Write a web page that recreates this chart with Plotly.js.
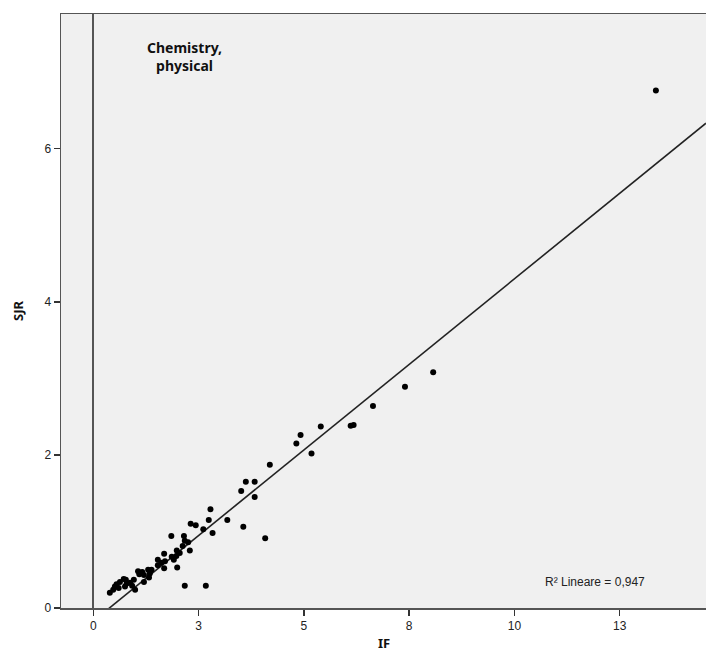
<!DOCTYPE html>
<html>
<head>
<meta charset="utf-8">
<script src="https://cdn.plot.ly/plotly-3.0.1.min.js"></script>
<style>html,body{margin:0;padding:0;overflow:hidden;background:#fff}</style>
</head>
<body>
<div id="chart" style="width:706px;height:663px"></div>
<script>
// Impact Factor (IF) of each journal
const ifVals = [13.36, 8.07, 7.40, 6.64, 6.11, 6.18, 5.40, 4.92, 4.82, 5.18,
  4.19, 3.62, 3.83, 3.51, 3.83, 2.78, 2.74, 3.18, 3.56, 4.08,
  2.31, 2.43, 2.61, 2.83, 2.67, 2.17,
  1.85, 2.15, 2.17, 2.25, 2.12, 2.29, 1.98, 2.05, 1.86, 1.97,
  1.91, 1.99, 1.68, 1.70, 1.68, 1.53, 1.53, 1.61, 1.38, 1.34,
  1.30, 1.16, 1.20, 1.32, 1.20, 1.09, 1.06, 0.96, 0.87, 0.77,
  0.72, 0.99, 0.63, 0.55, 0.60, 0.51, 0.39, 0.47, 0.79, 0.75, 0.92];
// SCImago Journal Rank (SJR) of each journal
const sjrVals = [6.76, 3.08, 2.89, 2.64, 2.38, 2.39, 2.37, 2.26, 2.15, 2.02,
  1.87, 1.65, 1.65, 1.53, 1.45, 1.29, 1.15, 1.15, 1.06, 0.91,
  1.10, 1.08, 1.03, 0.98, 0.29, 0.29,
  0.94, 0.94, 0.88, 0.86, 0.81, 0.75, 0.75, 0.72, 0.67, 0.68,
  0.63, 0.53, 0.71, 0.61, 0.52, 0.63, 0.56, 0.59, 0.50, 0.45,
  0.50, 0.47, 0.43, 0.40, 0.34, 0.44, 0.48, 0.37, 0.33, 0.37,
  0.38, 0.24, 0.34, 0.31, 0.26, 0.28, 0.20, 0.24, 0.32, 0.28, 0.29];

const xTickVals = [0, 2.5, 5, 7.5, 10, 12.5];
const xTickText = ['0', '3', '5', '8', '10', '13'];
const yTickVals = [0, 2, 4, 6];
const yTickText = ['0', '2', '4', '6'];

// linear fit line
const fitIntercept = -0.17;
const fitSlope = 0.447;
const rSquaredLabel = 'R² Lineare = 0,947';
const groupLabel = '<b>Chemistry,<br>physical</b>';

const xRange = [-0.77, 14.55];
const yRange = [0, 7.76];

const fitX = [xRange[0], xRange[1]];
const fitY = fitX.map(v => fitIntercept + fitSlope * v);

const tickFont = {family: 'Liberation Sans, Arial, sans-serif', size: 12, color: '#222'};

const traces = [
  {x: fitX, y: fitY, mode: 'lines', type: 'scatter',
   line: {color: '#222', width: 1.6}, hoverinfo: 'skip', showlegend: false},
  {x: ifVals, y: sjrVals, mode: 'markers', type: 'scatter',
   marker: {color: '#000', size: 6}, showlegend: false, cliponaxis: false}
];

const layout = {
  width: 706, height: 663,
  margin: {l: 61, r: 0, t: 14, b: 55},
  paper_bgcolor: '#ffffff',
  plot_bgcolor: '#f0f0f0',
  showlegend: false,
  xaxis: {
    range: xRange, tickvals: xTickVals, ticktext: xTickText,
    ticks: 'outside', ticklen: 6, tickwidth: 1.5, tickcolor: '#333',
    tickfont: tickFont, showgrid: false,
    zeroline: true, zerolinecolor: '#555', zerolinewidth: 2,
    showline: true, mirror: true, linecolor: '#555', linewidth: 1.5
  },
  yaxis: {
    range: yRange, tickvals: yTickVals, ticktext: yTickText,
    ticks: 'outside', ticklen: 6, tickwidth: 1.5, tickcolor: '#333',
    tickfont: tickFont, showgrid: false, zeroline: false,
    showline: true, mirror: true, linecolor: '#555', linewidth: 1.5
  },
  annotations: [
    {text: '<b>IF</b>', xref: 'paper', yref: 'paper', x: 0.5, y: -0.059,
     xanchor: 'center', yanchor: 'middle', showarrow: false,
     font: {family: 'Noto Sans, DejaVu Sans, sans-serif', size: 13, color: '#111'}},
    {text: '<b>SJR</b>', xref: 'paper', yref: 'paper', x: -0.0667, y: 0.5,
     xanchor: 'center', yanchor: 'middle', textangle: -90, showarrow: false,
     font: {family: 'Noto Sans, DejaVu Sans, sans-serif', size: 13, color: '#111'}},
    {text: groupLabel, xref: 'paper', yref: 'paper', x: 0.192, y: 0.929,
     xanchor: 'center', yanchor: 'middle', showarrow: false,
     font: {family: 'Noto Sans, DejaVu Sans, sans-serif', size: 14, color: '#111'}},
    {text: rSquaredLabel, xref: 'paper', yref: 'paper', x: 0.828, y: 0.044,
     xanchor: 'center', yanchor: 'middle', showarrow: false,
     font: {family: 'Liberation Sans, Arial, sans-serif', size: 12, color: '#222'}}
  ]
};

Plotly.newPlot('chart', traces, layout, {displayModeBar: false, staticPlot: true});
</script>
</body>
</html>
